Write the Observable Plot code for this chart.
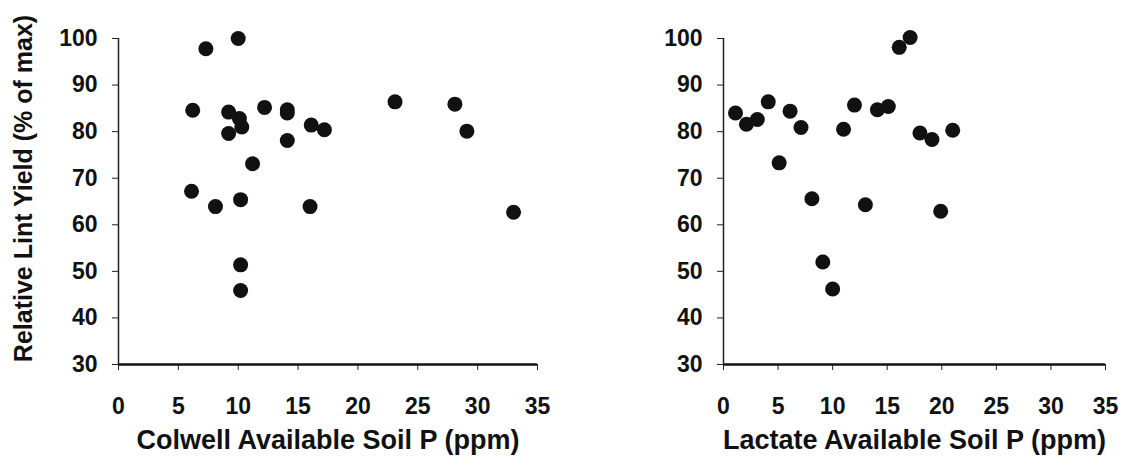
<!DOCTYPE html>
<html>
<head>
<meta charset="utf-8">
<script src="https://cdn.jsdelivr.net/npm/d3@7"></script>
<script src="https://cdn.jsdelivr.net/npm/@observablehq/plot@0.6"></script>
<style>
  html, body { margin: 0; padding: 0; background: #fff; }
  #wrap { display: flex; width: 1122px; height: 467px; }
  svg { font-family: "Liberation Sans", Arial, sans-serif; }
</style>
</head>
<body>
<div id="wrap"></div>
<script>
const xTicks = [0, 5, 10, 15, 20, 25, 30, 35];
const yTicks = [30, 40, 50, 60, 70, 80, 90, 100];

const colwellP =     [10, 7.3, 6.2, 9.2, 10.1, 10.3, 9.2, 12.2, 14.1, 14.1, 14.1, 16.1, 17.2, 11.2, 6.1, 8.1, 10.2, 16.0, 10.2, 10.2, 23.1, 28.1, 29.1, 33.0];
const colwellYield = [100, 97.8, 84.6, 84.2, 82.8, 81.0, 79.6, 85.2, 84.7, 84.0, 78.1, 81.4, 80.4, 73.1, 67.2, 63.9, 65.4, 63.9, 51.4, 45.9, 86.4, 85.9, 80.1, 62.7];

const lactateP =     [1.1, 2.1, 3.1, 4.1, 5.1, 6.1, 7.1, 8.1, 9.1, 10.0, 11.0, 12.0, 13.0, 14.1, 15.1, 16.1, 17.1, 18.0, 19.1, 19.9, 21.0];
const lactateYield = [84.0, 81.6, 82.6, 86.4, 73.3, 84.4, 80.9, 65.6, 52.0, 46.2, 80.5, 85.7, 64.3, 84.7, 85.4, 98.1, 100.2, 79.7, 78.3, 62.9, 80.3];

const xTitles = ["Colwell Available Soil P (ppm)", "Lactate Available Soil P (ppm)"];
const yTitle = "Relative Lint Yield (% of max)";

function panel(xs, ys, xTitle, opts) {
  const data = xs.map((x, i) => ({x, y: ys[i]}));
  const marks = [
    Plot.axisY({ticks: yTicks, tickSize: 6, tickPadding: 15, fontSize: 23, fontWeight: "bold", stroke: "#222", label: null}),
    Plot.axisX({ticks: xTicks, tickSize: 6, tickPadding: 27, fontSize: 23, fontWeight: "bold", stroke: "#222", label: null}),
    Plot.ruleX([0], {y1: 30, y2: 100, stroke: "#222", strokeWidth: 1.5}),
    Plot.ruleY([30], {x1: 0, x2: 35, stroke: "#111", strokeWidth: 2.5}),
    Plot.dot(data, {x: "x", y: "y", r: 7.5, fill: "#111", stroke: "none"}),
    Plot.text([xTitle], {frameAnchor: "bottom", textAnchor: "middle", dy: 84, fontSize: 27, fontWeight: "bold", fill: "#111"})
  ];
  if (opts.yTitle) {
    marks.push(Plot.text([opts.yTitle], {frameAnchor: "left", textAnchor: "middle", rotate: -90, dx: opts.yDx, dy: -13, fontSize: 25, fontWeight: "bold", fill: "#111"}));
  }
  return Plot.plot({
    width: opts.width,
    height: 467,
    marginLeft: opts.marginLeft,
    marginRight: opts.marginRight,
    marginTop: 38,
    marginBottom: 103,
    x: {domain: [0, 35]},
    y: {domain: [30, 100]},
    style: {background: "#fff", color: "#111", overflow: "visible"},
    marks
  });
}

const wrap = document.getElementById("wrap");
wrap.appendChild(panel(colwellP, colwellYield, xTitles[0], {width: 560, marginLeft: 118, marginRight: 23, yTitle, yDx: -95}));
wrap.appendChild(panel(lactateP, lactateYield, xTitles[1], {width: 562, marginLeft: 163, marginRight: 17}));
</script>
</body>
</html>
